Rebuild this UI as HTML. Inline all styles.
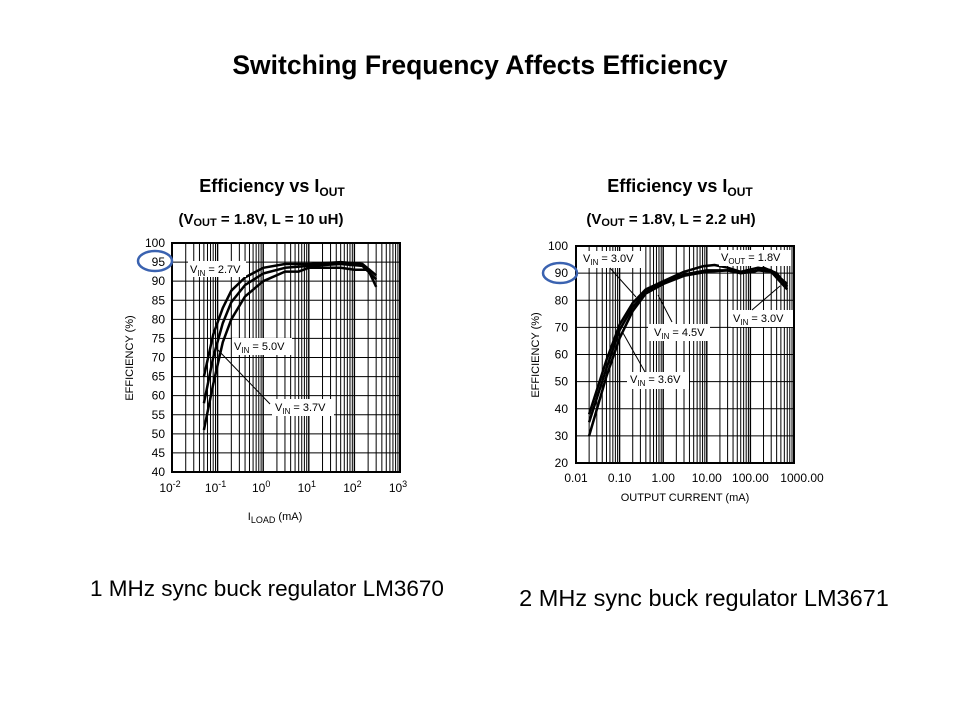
<!DOCTYPE html>
<html><head><meta charset="utf-8"><style>
body{margin:0;background:#fff;width:960px;height:720px;overflow:hidden;font-family:"Liberation Sans",Arial,sans-serif}
</style></head><body>
<svg id="s" width="960" height="720" xmlns="http://www.w3.org/2000/svg" font-family="Liberation Sans, Arial, sans-serif">
<text x="480" y="74" text-anchor="middle" font-size="26.5" font-weight="bold">Switching Frequency Affects Efficiency</text>
<text x="272" y="192" text-anchor="middle" font-size="18" font-weight="bold">Efficiency  vs I<tspan font-size="12" dy="4">OUT</tspan></text>
<text x="680" y="192" text-anchor="middle" font-size="18" font-weight="bold">Efficiency  vs I<tspan font-size="12" dy="4">OUT</tspan></text>
<text x="261" y="224" text-anchor="middle" font-size="15" font-weight="bold">(V<tspan font-size="11" dy="2">OUT</tspan><tspan dy="-2"> = 1.8V,  L = 10  uH)</tspan></text>
<text x="671" y="224" text-anchor="middle" font-size="15" font-weight="bold">(V<tspan font-size="11" dy="2">OUT</tspan><tspan dy="-2"> = 1.8V,  L = 2.2 uH)</tspan></text>
<text x="267" y="596" text-anchor="middle" font-size="22.5">1 MHz sync buck regulator LM3670</text>
<text x="704" y="606" text-anchor="middle" font-size="23.5">2 MHz sync buck regulator LM3671</text>
<g id="g"></g>
</svg>
<script>
var g=document.getElementById('g'),o='';
function chart(x0,x1,y0,y1,dec0,ymin,ymax,ystep,curves){
 var nd=5,dw=(x1-x0)/nd;
 function X(v){return x0+(Math.log10(v)-dec0)*dw}
 function Y(v){return y1-(v-ymin)/(ymax-ymin)*(y1-y0)}
 for(var d=0;d<nd;d++)for(var k=1;k<10;k++){var x=x0+d*dw+Math.log10(k)*dw;o+='<line x1="'+x+'" x2="'+x+'" y1="'+y0+'" y2="'+y1+'" stroke="#000" stroke-width="'+(k==1?1.4:1)+'"/>';}
 for(var v=ymin;v<=ymax;v+=ystep){o+='<line x1="'+x0+'" x2="'+x1+'" y1="'+Y(v)+'" y2="'+Y(v)+'" stroke="#000" stroke-width="1"/>';}
 o+='<rect x="'+x0+'" y="'+y0+'" width="'+(x1-x0)+'" height="'+(y1-y0)+'" fill="none" stroke="#000" stroke-width="2"/>';
 curves.forEach(function(c){var p=c.map(function(q){return X(q[0]).toFixed(1)+','+Y(q[1]).toFixed(1)}).join(' ');o+='<polyline points="'+p+'" fill="none" stroke="#000" stroke-width="2.5" stroke-linejoin="round"/>';});
 return {X:X,Y:Y};
}
var A=chart(172,400,243,472,-2,40,100,5,[
 [[0.05,65],[0.08,76],[0.13,83],[0.2,87.5],[0.4,91],[1,93.5],[3,94.5],[10,94.5],[50,95],[150,94.5],[300,91.5]],
 [[0.05,58],[0.08,70],[0.13,79],[0.2,84.5],[0.4,89],[1,92],[3,93.5],[10,94],[50,94.5],[150,94],[300,90.5]],
 [[0.05,51],[0.08,63],[0.13,74],[0.2,80],[0.4,86],[1,90],[3,92.5],[6,92.5],[10,93.5],[50,93.5],[100,93],[200,93],[300,88.5]]
]);
for(var v=40;v<=100;v+=5)o+='<text x="165" y="'+(A.Y(v)+4)+'" text-anchor="end" font-size="12">'+v+'</text>';
for(var e=-2;e<=3;e++)o+='<text x="'+(A.X(Math.pow(10,e))-2)+'" y="492" text-anchor="middle" font-size="12">10<tspan font-size="9" dy="-5">'+e+'</tspan></text>';
o+='<text x="275" y="520" text-anchor="middle" font-size="11">I<tspan font-size="9" dy="3">LOAD</tspan><tspan dy="-3"> (mA)</tspan></text>';
o+='<text transform="translate(133,358) rotate(-90)" text-anchor="middle" font-size="11">EFFICIENCY (%)</text>';
o+='<rect x="188" y="261" width="58" height="16" fill="#fff"/><text x="190" y="273" font-size="11">V<tspan font-size="8" dy="3">IN</tspan><tspan dy="-3"> = 2.7V</tspan></text>';
o+='<rect x="232" y="338" width="60" height="17" fill="#fff"/><text x="234" y="350" font-size="11">V<tspan font-size="8" dy="3">IN</tspan><tspan dy="-3"> = 5.0V</tspan></text>';
o+='<rect x="272" y="399" width="62" height="17" fill="#fff"/><text x="275" y="411" font-size="11">V<tspan font-size="8" dy="3">IN</tspan><tspan dy="-3"> = 3.7V</tspan></text>';
o+='<line x1="218" y1="350" x2="270" y2="404" stroke="#000"/>';
o+='<ellipse cx="155" cy="261" rx="17" ry="10" fill="none" stroke="#3a62b0" stroke-width="2.5"/>';
var B=chart(576,794,246,463,-2,20,100,10,[
 [[0.02,38],[0.05,58],[0.1,71],[0.2,79],[0.4,84],[1,87],[3,90.5],[8,92.5],[15,93],[30,92],[60,90.5],[150,92],[300,91],[700,86]],
 [[0.02,35],[0.05,55],[0.1,69],[0.2,77.5],[0.4,83],[1,86.5],[3,89.5],[10,91],[30,91],[60,90],[120,90.5],[200,92],[400,90],[700,85]],
 [[0.02,30],[0.05,52],[0.1,66],[0.2,76],[0.4,82.5],[1,86],[3,89],[10,90.5],[30,91],[60,90],[150,91],[300,90.5],[700,84]]
]);
for(var v=20;v<=100;v+=10)o+='<text x="568" y="'+(B.Y(v)+4)+'" text-anchor="end" font-size="12">'+v+'</text>';
['0.01','0.10','1.00','10.00','100.00','1000.00'].forEach(function(t,i){o+='<text x="'+(B.X(Math.pow(10,i-2))+(i==5?8:0))+'" y="482" text-anchor="middle" font-size="12">'+t+'</text>';});
o+='<text x="685" y="501" text-anchor="middle" font-size="11">OUTPUT CURRENT (mA)</text>';
o+='<text transform="translate(539,355) rotate(-90)" text-anchor="middle" font-size="11">EFFICIENCY (%)</text>';
o+='<rect x="581" y="251" width="62" height="17" fill="#fff"/><text x="583" y="262" font-size="11">V<tspan font-size="8" dy="3">IN</tspan><tspan dy="-3"> = 3.0V</tspan></text>';
o+='<rect x="719" y="250" width="72" height="16" fill="#fff"/><text x="721" y="261" font-size="11">V<tspan font-size="8" dy="3">OUT</tspan><tspan dy="-3"> = 1.8V</tspan></text>';
o+='<rect x="648" y="324" width="62" height="17" fill="#fff"/><text x="654" y="336" font-size="11">V<tspan font-size="8" dy="3">IN</tspan><tspan dy="-3"> = 4.5V</tspan></text>';
o+='<rect x="731" y="310" width="62" height="17" fill="#fff"/><text x="733" y="322" font-size="11">V<tspan font-size="8" dy="3">IN</tspan><tspan dy="-3"> = 3.0V</tspan></text>';
o+='<rect x="627" y="372" width="62" height="17" fill="#fff"/><text x="630" y="383" font-size="11">V<tspan font-size="8" dy="3">IN</tspan><tspan dy="-3"> = 3.6V</tspan></text>';
o+='<line x1="610" y1="268" x2="636" y2="297" stroke="#000"/><line x1="672" y1="322" x2="658" y2="295" stroke="#000"/><line x1="752" y1="310" x2="780" y2="286" stroke="#000"/><line x1="645" y1="372" x2="623" y2="333" stroke="#000"/>';
o+='<ellipse cx="560" cy="273" rx="17" ry="10" fill="none" stroke="#3a62b0" stroke-width="2.5"/>';
g.innerHTML=o;
</script>
</body></html>
